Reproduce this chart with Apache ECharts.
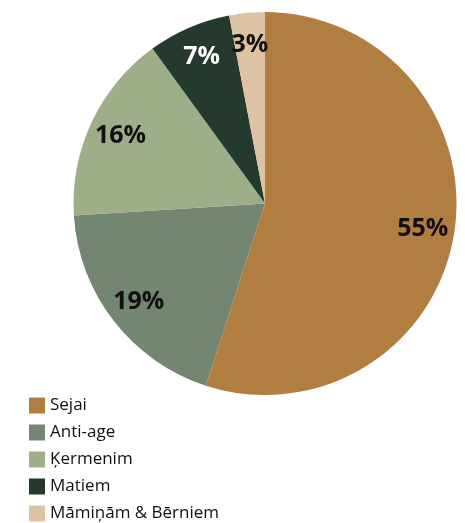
<!DOCTYPE html>
<html>
<head>
<meta charset="utf-8">
<script src="https://cdn.jsdelivr.net/npm/echarts@6/dist/echarts.min.js"></script>
<style>
  html, body { margin: 0; padding: 0; background: #fff; }
  #chart { width: 465px; height: 523px; }
</style>
</head>
<body>
<div id="chart"></div>
<script>
// kategorijas un vērtības (%)
const categories = ['Sejai', 'Anti-age', 'Ķermenim', 'Matiem', 'Māmiņām & Bērniem']
const values = [55, 19, 16, 7, 3]
const colors = ['#B27D40', '#728672', '#9EAE88', '#243A2F', '#DEC2A4']
const labelColors = ['#111', '#111', '#111', '#fff', '#111']

const chart = echarts.init(document.getElementById('chart'))

const pieData = categories.map((name, i) => ({
  name: name,
  value: values[i],
  itemStyle: { color: colors[i] }
}))

// caurspīdīgs slānis tikai etiķetēm
const labelData = categories.map((name, i) => ({
  name: name,
  value: values[i],
  itemStyle: { color: 'rgba(0,0,0,0)' },
  label: { color: labelColors[i] }
}))

const option = {
  animation: false,
  legend: {
    orient: 'vertical',
    left: 29,
    top: 397,
    padding: 0,
    height: 130,
    itemWidth: 16,
    itemHeight: 16,
    itemGap: 10,
    icon: 'rect',
    data: categories,
    textStyle: {
      fontFamily: 'Open Sans',
      fontSize: 17,
      fontWeight: 500,
      color: '#111'
    }
  },
  series: [
    {
      type: 'pie',
      center: [265, 203.5],
      radius: [0, 191.5],
      startAngle: 90,
      clockwise: true,
      label: { show: false },
      labelLine: { show: false },
      itemStyle: { borderWidth: 0 },
      emphasis: { disabled: true },
      data: pieData
    },
    {
      type: 'pie',
      center: [265, 203.5],
      radius: [122, 191.5],
      startAngle: 90,
      clockwise: true,
      silent: true,
      legendHoverLink: false,
      label: {
        show: true,
        position: 'inside',
        formatter: '{c}%',
        fontFamily: 'Open Sans',
        fontWeight: 'bold',
        fontSize: 25
      },
      labelLine: { show: false },
      emphasis: { disabled: true },
      data: labelData
    }
  ]
}
chart.setOption(option)
</script>
</body>
</html>
